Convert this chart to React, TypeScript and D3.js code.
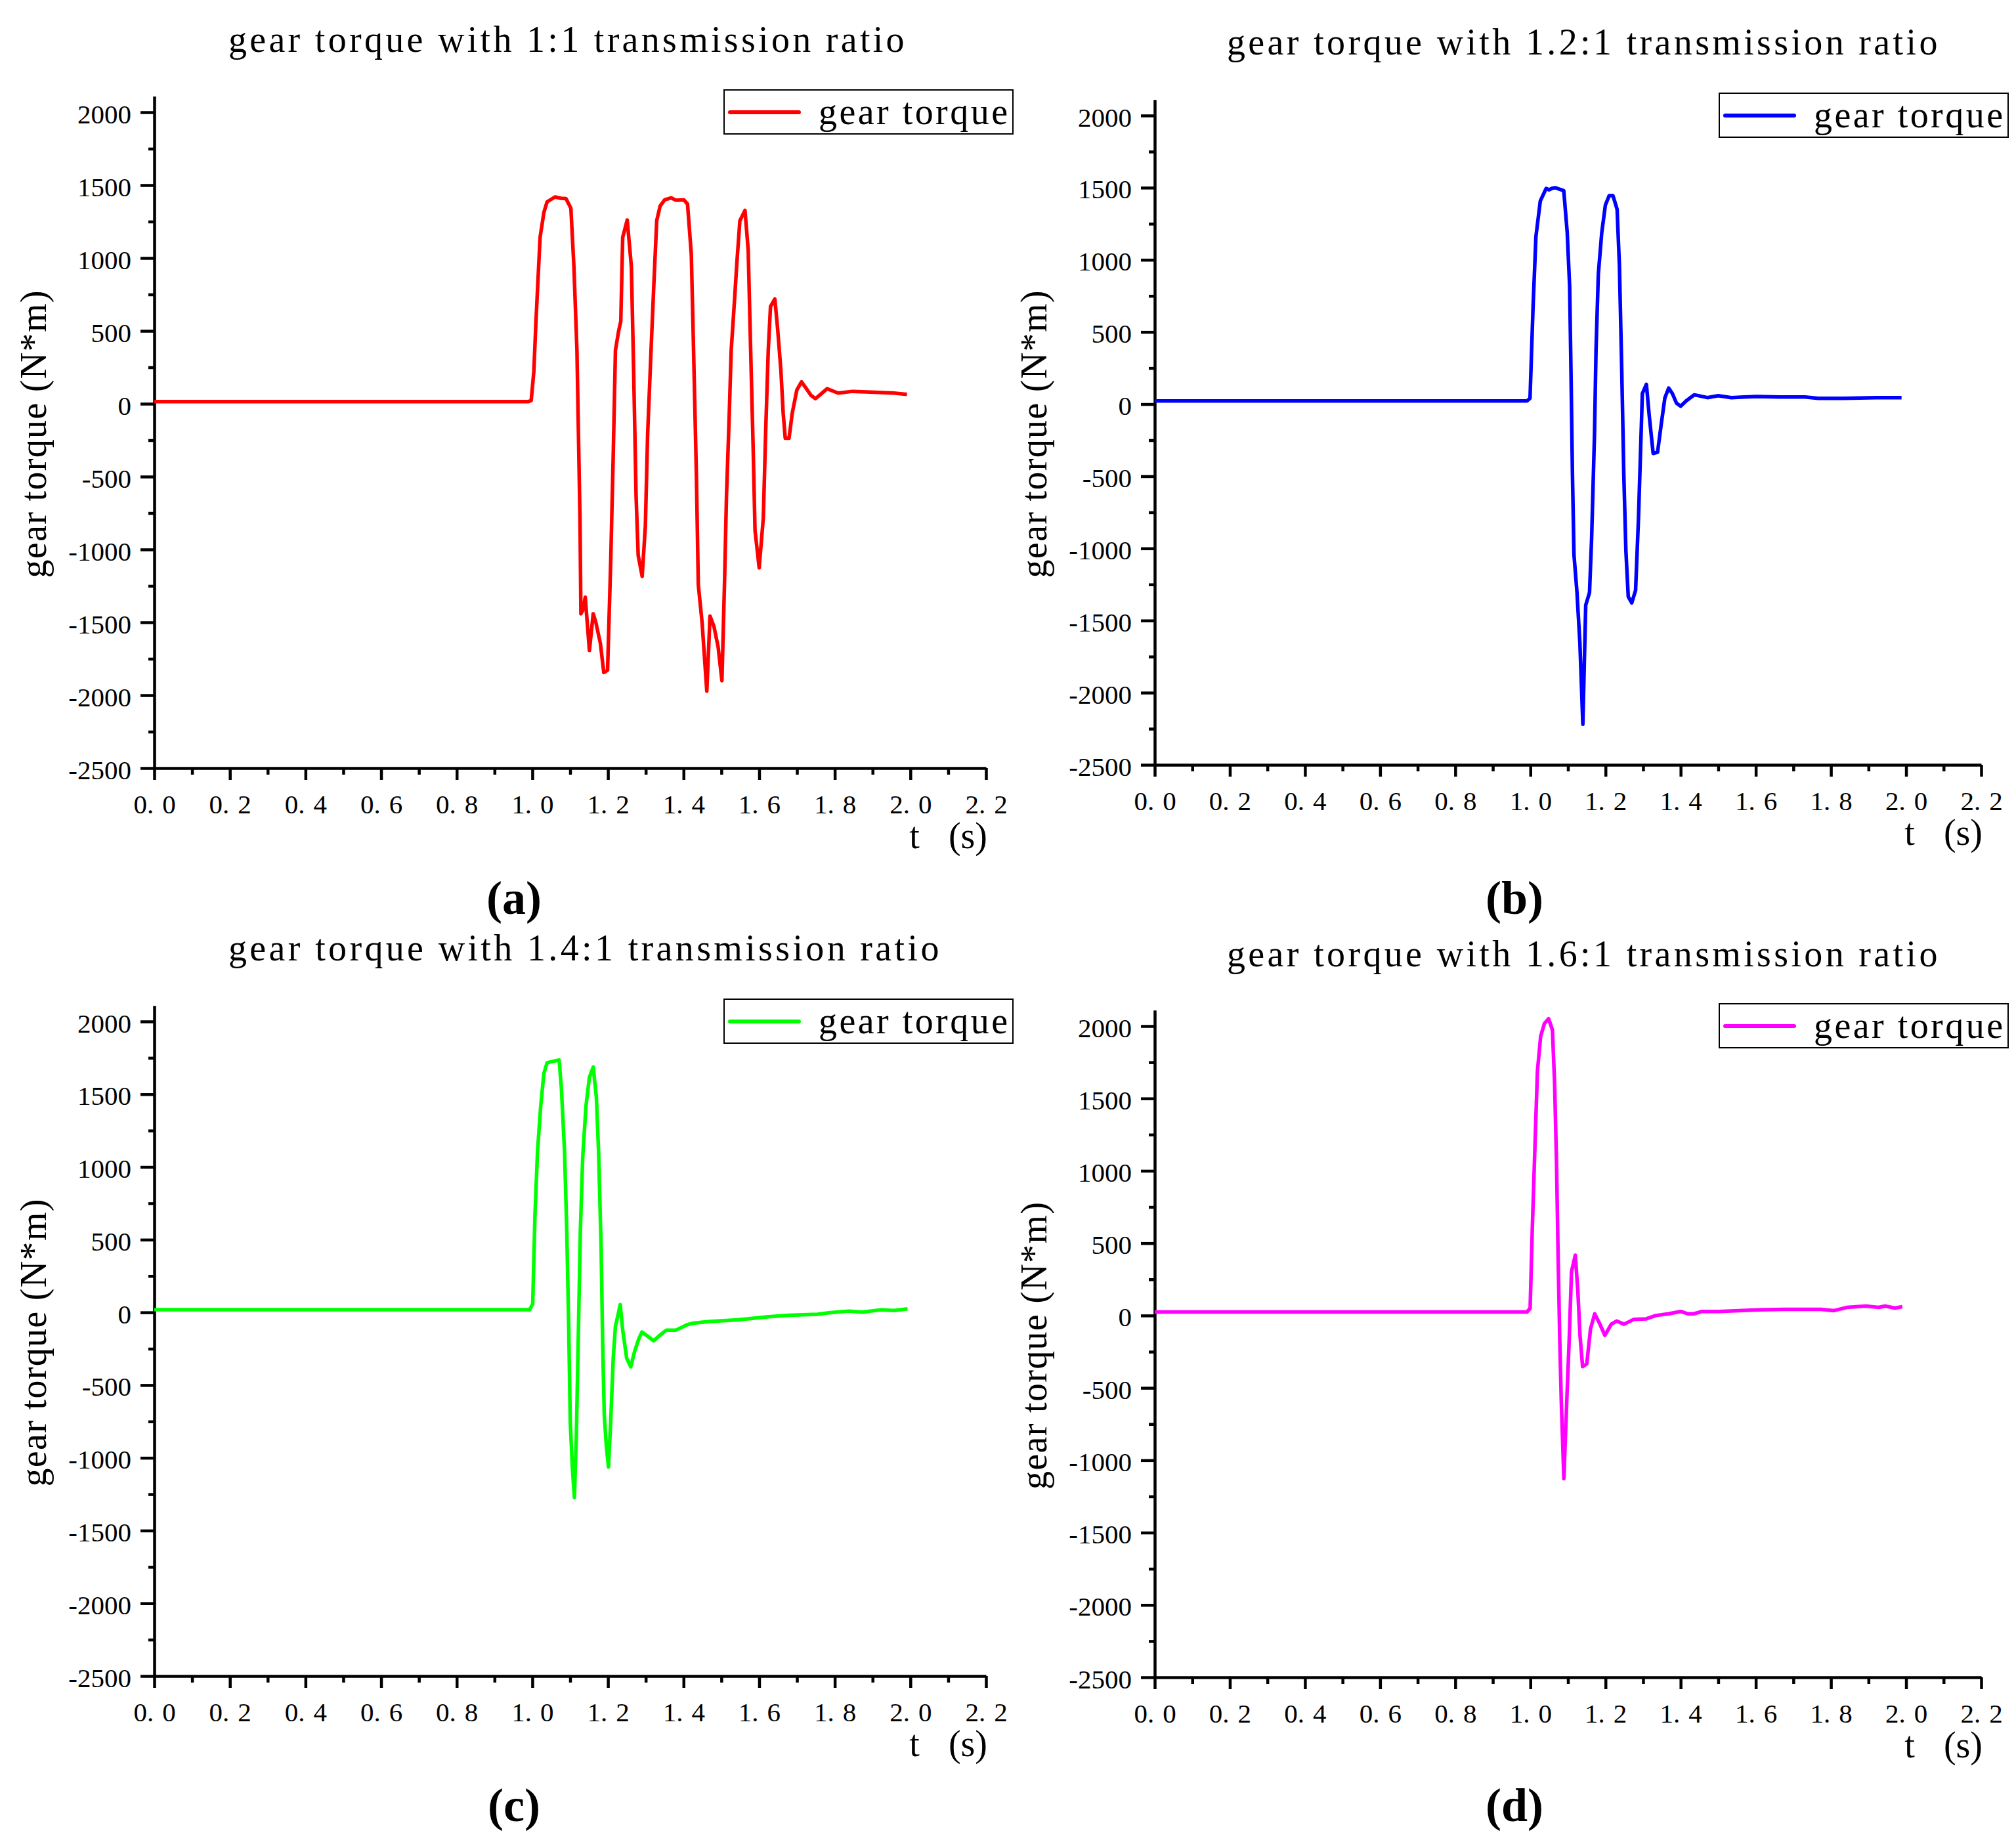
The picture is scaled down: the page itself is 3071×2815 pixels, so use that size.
import { useEffect, useRef } from 'react';
import * as d3 from 'd3';

const W = 3071;
const H = 2815;
const FONT = '"Liberation Serif", "Times New Roman", serif';

// axis ticks
const xTicks = [0, 0.2, 0.4, 0.6, 0.8, 1.0, 1.2, 1.4, 1.6, 1.8, 2.0, 2.2];
const xMinor = [0.1, 0.3, 0.5, 0.7, 0.9, 1.1, 1.3, 1.5, 1.7, 1.9, 2.1];
const yTicks = [-2500, -2000, -1500, -1000, -500, 0, 500, 1000, 1500, 2000];
const yMinor = [-2250, -1750, -1250, -750, -250, 250, 750, 1250, 1750];
const Y_AXIS_TOP = 2110;

const titles = [
  'gear torque with 1:1 transmission ratio',
  'gear torque with 1.2:1 transmission ratio',
  'gear torque with 1.4:1 transmission ratio',
  'gear torque with 1.6:1 transmission ratio',
];
const panelLabels = ['(a)', '(b)', '(c)', '(d)'];
const colors = ['#ff0000', '#0000ff', '#00ff00', '#ff00ff'];
const legendLabel = 'gear torque';
const xLabel = ['t', '(s)'];
const yLabel = 'gear torque (N*m)';

// (a) 1:1
const tA = [0, 0.99, 0.997, 1.004, 1.0096, 1.0205, 1.0306, 1.039, 1.06, 1.075, 1.089, 1.102, 1.11, 1.118, 1.122, 1.126,
  1.1285, 1.134, 1.14, 1.151, 1.161, 1.168, 1.18, 1.189, 1.199, 1.2075, 1.214, 1.2198, 1.228, 1.234, 1.239, 1.251,
  1.262, 1.268, 1.2745, 1.28, 1.2905, 1.299, 1.305, 1.314, 1.321, 1.329, 1.338, 1.35, 1.367, 1.38, 1.401, 1.4105,
  1.4205, 1.4265, 1.434, 1.439, 1.449, 1.4615, 1.47, 1.4805, 1.4916, 1.5015, 1.5085, 1.5135, 1.521, 1.526, 1.5355,
  1.541, 1.549, 1.5625, 1.571, 1.5775, 1.584, 1.589, 1.6, 1.611, 1.617, 1.624, 1.63, 1.6415, 1.649, 1.6576, 1.6635,
  1.669, 1.679, 1.6875, 1.6996, 1.712, 1.725, 1.7375, 1.749, 1.762, 1.7797, 1.809, 1.847, 1.906, 1.956, 1.991];
const torqueA = [15, 15, 22, 222, 566, 1141, 1313, 1385, 1419, 1410, 1408, 1341, 940, 366, -208, -782,
  -1441, -1414, -1328, -1693, -1441, -1500, -1644, -1844, -1828, -1067, -352, 366, 495, 566, 1141, 1261,
  940, 224, -638, -1040, -1185, -838, -208, 366, 795, 1256, 1356, 1399, 1413, 1396, 1399, 1370,
  1026, 366, -497, -1242, -1500, -1972, -1457, -1529, -1671, -1901, -1212, -638, -64, 366, 739,
  968, 1256, 1327, 1054, 366, -293, -868, -1126, -782, -208, 366, 667, 719, 509, 224, -64,
  -237, -237, -64, 94, 150, 103, 56, 35, 64, 103, 73, 85, 79, 73, 64];

// (b) 1.2:1
const tB = [0, 0.991, 0.999, 1.007, 1.0147, 1.0264, 1.042, 1.05, 1.057, 1.066, 1.077, 1.0888, 1.098, 1.1045, 1.108,
  1.112, 1.116, 1.124, 1.1317, 1.1396, 1.1473, 1.1574, 1.163, 1.1707, 1.1747, 1.1808, 1.19, 1.1996, 1.2097, 1.2198,
  1.2308, 1.237, 1.2432, 1.2487, 1.2542, 1.2605, 1.2698, 1.28, 1.2878, 1.293, 1.298, 1.3088, 1.3166, 1.3268, 1.3385,
  1.348, 1.358, 1.368, 1.378, 1.389, 1.4, 1.415, 1.436, 1.4405, 1.471, 1.5, 1.535, 1.569, 1.603, 1.663, 1.731,
  1.766, 1.834, 1.92, 1.988];
const torqueB = [22, 22, 40, 667, 1161, 1408, 1495, 1485, 1495, 1500, 1490, 1480, 1190, 813, 233,
  -493, -1044, -1306, -1653, -2219, -1393, -1306, -928, -202, 377, 900, 1190, 1379, 1445, 1445,
  1350, 958, 233, -493, -1016, -1335, -1378, -1291, -784, -348, 73, 137, -87, -342, -334,
  -145, 44, 111, 73, 6, -14, 23, 64, 62, 45, 58, 45, 49, 53, 49, 49,
  40, 40, 45, 45];

// (c) 1.4:1
const tC = [0, 0.9927, 1.001, 1.007, 1.0137, 1.022, 1.0306, 1.039, 1.051, 1.0709, 1.0768, 1.0852, 1.0911, 1.0962,
  1.1003, 1.1062, 1.1113, 1.1163, 1.1213, 1.127, 1.1332, 1.1417, 1.1509, 1.161, 1.1694, 1.1752, 1.1819, 1.186,
  1.1903, 1.196, 1.2014, 1.2073, 1.214, 1.2198, 1.2255, 1.2325, 1.2389, 1.2495, 1.2603, 1.2703, 1.2813, 1.2897,
  1.304, 1.3208, 1.3352, 1.3545, 1.3797, 1.4092, 1.426, 1.468, 1.5355, 1.569, 1.6196, 1.6787, 1.7543, 1.788,
  1.838, 1.872, 1.923, 1.957, 1.9925];
const torqueC = [18, 18, 57, 670, 1107, 1413, 1643, 1716, 1724, 1735, 1544, 1107, 560, -96,
  -752, -1080, -1273, -861, -205, 560, 1063, 1413, 1615, 1687, 1479, 1107, 451, -205,
  -709, -927, -1063, -752, -315, -96, -31, 53, -118, -315, -374, -271, -184, -135,
  -162, -195, -162, -122, -122, -85, -74, -63, -52, -45, -31, -20, -13, -2,
  9, 2, 18, 13, 24];

// (d) 1.6:1
const tD = [0, 0.9908, 0.9993, 1.0052, 1.012, 1.0187, 1.0273, 1.0374, 1.0484, 1.0586, 1.0645, 1.0696, 1.0739,
  1.0781, 1.0823, 1.0891, 1.0967, 1.1034, 1.1094, 1.1195, 1.1263, 1.132, 1.139, 1.15, 1.16, 1.1712, 1.1831,
  1.1983, 1.2153, 1.2296, 1.2492, 1.2746, 1.3084, 1.334, 1.3678, 1.4, 1.419, 1.4354, 1.4568, 1.5032, 1.554,
  1.605, 1.6727, 1.7234, 1.774, 1.808, 1.842, 1.893, 1.927, 1.944, 1.97, 1.99];
const torqueD = [24, 24, 50, 611, 1161, 1688, 1930, 2018, 2051, 1974, 1600, 1050, 391,
  -159, -599, -1127, -599, -159, 303, 417, 171, -137, -353, -335, -93, 12, -49,
  -137, -60, -38, -60, -27, -23, 0, 12, 28, 12, 12, 28, 28, 34,
  39, 43, 43, 43, 34, 56, 65, 56, 65, 52, 61];

const times = [tA, tB, tC, tD];
const torques = [torqueA, torqueB, torqueC, torqueD];

// panel frames in page pixels
const frames = [
  { left: 235, right: 1502, top: 171, bottom: 1170, titleX: 348, titleY: 79, labelY: 1392 },
  { left: 1759, right: 3018, top: 176, bottom: 1165, titleX: 1869, titleY: 83, labelY: 1392 },
  { left: 235, right: 1502, top: 1556, bottom: 2553, titleX: 348, titleY: 1463, labelY: 2774 },
  { left: 1759, right: 3018, top: 1563, bottom: 2555, titleX: 1869, titleY: 1472, labelY: 2774 },
];

const App = () => {
  const ref = useRef<SVGSVGElement | null>(null);

  useEffect(() => {
    if (!ref.current) return;
    const svg = d3.select(ref.current);
    svg.selectAll('*').remove();

    svg.append('rect').attr('width', W).attr('height', H).attr('fill', '#fff');

    frames.forEach((f, i) => {
      const x = d3.scaleLinear().domain([0, 2.2]).range([f.left, f.right]);
      const y = d3.scaleLinear().domain([-2500, 2000]).range([f.bottom, f.top]);
      const yAxisScale = d3.scaleLinear().domain([-2500, Y_AXIS_TOP]).range([f.bottom, y(Y_AXIS_TOP)]);
      const g = svg.append('g');

      // minor ticks
      g.append('g')
        .attr('transform', `translate(0,${f.bottom})`)
        .call(d3.axisBottom(x).tickValues(xMinor).tickSize(10).tickSizeOuter(0).tickFormat(() => ''))
        .call(a => a.select('.domain').remove())
        .selectAll('line').attr('stroke-width', 4.5);
      g.append('g')
        .attr('transform', `translate(${f.left},0)`)
        .call(d3.axisLeft(y).tickValues(yMinor).tickSize(9).tickSizeOuter(0).tickFormat(() => ''))
        .call(a => a.select('.domain').remove())
        .selectAll('line').attr('stroke-width', 4.5);

      // x axis
      const xg = g.append('g')
        .attr('transform', `translate(0,${f.bottom})`)
        .attr('font-family', FONT)
        .call(d3.axisBottom(x).tickValues(xTicks).tickSize(18).tickSizeOuter(0));
      xg.select('.domain').attr('stroke-width', 4.5);
      xg.selectAll('line').attr('stroke-width', 4.5);
      xg.selectAll<SVGTextElement, number>('text')
        .attr('y', 69)
        .attr('dy', null)
        .attr('font-size', 41)
        .attr('font-family', FONT)
        .each(function (d) {
          const parts = d.toFixed(1).split('.');
          const t = d3.select(this);
          t.text('');
          t.append('tspan').text(parts[0] + '.');
          t.append('tspan').attr('dx', 13).text(parts[1]);
        });

      // y axis
      const yg = g.append('g')
        .attr('transform', `translate(${f.left},0)`)
        .attr('font-family', FONT)
        .call(d3.axisLeft(yAxisScale).tickValues(yTicks).tickSize(21).tickSizeOuter(0).tickPadding(14)
          .tickFormat(d => String(d)));
      yg.select('.domain').attr('stroke-width', 4.5);
      yg.selectAll('line').attr('stroke-width', 4.5);
      yg.selectAll('text')
        .attr('dy', 16)
        .attr('font-size', 41)
        .attr('font-family', FONT);

      // curve
      const t = times[i];
      const line = d3.line<number>()
        .x((_, j) => x(t[j]))
        .y(d => y(d));
      g.append('path')
        .datum(torques[i])
        .attr('d', line)
        .attr('fill', 'none')
        .attr('stroke', colors[i])
        .attr('stroke-width', 5.5)
        .attr('stroke-linejoin', 'round');

      // title
      g.append('text')
        .attr('x', f.titleX)
        .attr('y', f.titleY)
        .attr('font-family', FONT)
        .attr('font-size', 56)
        .attr('textLength', titles[i].length * 26.4)
        .attr('lengthAdjust', 'spacing')
        .text(titles[i]);

      // legend
      const lx = f.right - 399;
      const ly = f.top - 34;
      const legend = g.append('g');
      legend.append('rect')
        .attr('x', lx)
        .attr('y', ly)
        .attr('width', 440)
        .attr('height', 67)
        .attr('fill', '#fff')
        .attr('stroke', '#000')
        .attr('stroke-width', 2);
      legend.append('line')
        .attr('x1', lx + 9)
        .attr('x2', lx + 114)
        .attr('y1', ly + 34)
        .attr('y2', ly + 34)
        .attr('stroke', colors[i])
        .attr('stroke-width', 6)
        .attr('stroke-linecap', 'round');
      legend.append('text')
        .attr('x', lx + 144)
        .attr('y', ly + 52)
        .attr('font-family', FONT)
        .attr('font-size', 56)
        .attr('textLength', 288)
        .attr('lengthAdjust', 'spacing')
        .text(legendLabel);

      // axis titles
      g.append('text')
        .attr('transform', `translate(${f.left - 165},${(f.top + f.bottom) / 2 - 9}) rotate(-90)`)
        .attr('text-anchor', 'middle')
        .attr('font-family', FONT)
        .attr('font-size', 56)
        .attr('textLength', 438)
        .attr('lengthAdjust', 'spacing')
        .text(yLabel);
      const xt = g.append('text')
        .attr('x', f.right + 2)
        .attr('y', f.bottom + 122)
        .attr('text-anchor', 'end')
        .attr('font-family', FONT)
        .attr('font-size', 56)
        .text(xLabel[0] + ' ');
      xt.append('tspan').attr('dx', 30).text(xLabel[1]);

      // panel label
      g.append('text')
        .attr('x', f.left + 548)
        .attr('y', f.labelY)
        .attr('text-anchor', 'middle')
        .attr('font-family', FONT)
        .attr('font-weight', 'bold')
        .attr('font-size', 72)
        .text(panelLabels[i]);
    });
  }, []);

  return (
    <svg
      ref={ref}
      width={W}
      height={H}
      style={{ position: 'absolute', left: 0, top: 0, display: 'block' }}
    />
  );
};

export default App;
